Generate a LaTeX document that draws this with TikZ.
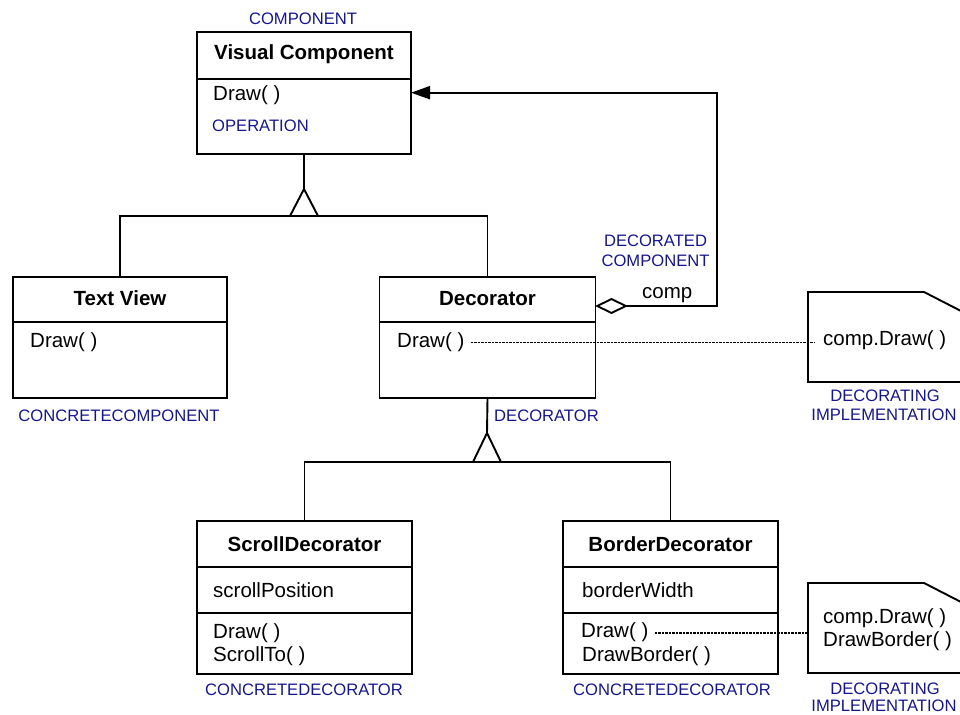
\documentclass[tikz,border=0pt]{standalone}
\usepackage{fontspec}
\setmainfont{Liberation Sans}
\usetikzlibrary{arrows.meta}
\definecolor{rolecol}{RGB}{22,22,140}
\begin{document}
\begin{tikzpicture}[x=1pt,y=-1pt,
  cls/.style={draw, line width=1.9pt, inner sep=0pt, outer sep=0pt},
  wire/.style={line width=1.9pt},
  txt/.style={inner sep=0pt, anchor=base west, font=\fontsize{20.5}{24}\selectfont},
  ttl/.style={inner sep=0pt, anchor=base, font=\fontsize{20.5}{24}\selectfont\bfseries},
  role/.style={inner sep=0pt, anchor=base, text=rolecol, font=\fontsize{16.6}{19.5}\selectfont},
  dotline/.style={line width=1.3pt, dash pattern=on 2.5pt off 1pt},
  holder/.style={inner sep=0pt, outer sep=0pt},
]
\useasboundingbox (0,0) rectangle (960,714);
\clip (0,0) rectangle (960,714);

% ---- Visual Component ----
\node[cls, minimum width=214pt, minimum height=122pt] (vc) at (304,93) {};
\draw[wire] (vc.west |- 0,79) -- (vc.east |- 0,79);
\node[ttl] (vcname) at (304,60) {Visual Component};
\node[txt] (vcdraw) at (213,100.7) {Draw( )};
\node[role, anchor=base west] (vcop) at (212,131.7) {OPERATION};
\node[role] (vcrole) at (303,24.3) {COMPONENT};

% ---- Text View ----
\node[cls, minimum width=214pt, minimum height=121pt] (tv) at (120,337.5) {};
\draw[wire] (tv.west |- 0,322) -- (tv.east |- 0,322);
\node[ttl] (tvname) at (120,305) {Text View};
\node[txt] (tvdraw) at (30,347.7) {Draw( )};
\node[role] (tvrole) at (119,421) {CONCRETECOMPONENT};

% ---- Decorator ----
\node[cls, minimum width=216pt, minimum height=121pt] (dec) at (487.5,337.5) {};
\draw[wire] (dec.west |- 0,322) -- (dec.east |- 0,322);
\node[ttl] (decname) at (487.5,305) {Decorator};
\node[txt] (decdraw) at (397,347.7) {Draw( )};
\node[role, anchor=base west] (decrole) at (494,421) {DECORATOR};

% ---- ScrollDecorator ----
\node[cls, minimum width=215pt, minimum height=153pt] (sd) at (304.5,597.5) {};
\draw[wire] (sd.west |- 0,567) -- (sd.east |- 0,567);
\draw[wire] (sd.west |- 0,613) -- (sd.east |- 0,613);
\node[ttl] (sdname) at (304.5,551) {ScrollDecorator};
\node[txt] (sdpos) at (213,597.3) {scrollPosition};
\node[txt] (sddraw) at (213,638.3) {Draw( )};
\node[txt] (sdscroll) at (213,661.7) {ScrollTo( )};
\node[role] (sdrole) at (304,695.7) {CONCRETEDECORATOR};

% ---- BorderDecorator ----
\node[cls, minimum width=215pt, minimum height=153pt] (bd) at (670.5,597.5) {};
\draw[wire] (bd.west |- 0,567) -- (bd.east |- 0,567);
\draw[wire] (bd.west |- 0,613) -- (bd.east |- 0,613);
\node[ttl] (bdname) at (670.5,551) {BorderDecorator};
\node[txt] (bdwidth) at (582,597.3) {borderWidth};
\node[txt] (bddraw) at (581,637.7) {Draw( )};
\node[txt] (bdborder) at (582,661.7) {DrawBorder( )};
\node[role] (bdrole) at (672,695.7) {CONCRETEDECORATOR};

% ---- implementation notes (folded corner runs past the right edge) ----
\node[holder, minimum width=192pt, minimum height=90pt] (n1) at (904,337) {};
\draw[wire] (n1.north west) -- (924,292) -- (1000,331) |- (n1.south west) -- cycle;
\node[txt] (n1code) at (823,345) {comp.Draw( )};
\node[role] (n1roleA) at (885,401.7) {DECORATING};
\node[role] (n1roleB) at (884,420) {IMPLEMENTATION};

\node[holder, minimum width=192pt, minimum height=90pt] (n2) at (904,628) {};
\draw[wire] (n2.north west) -- (924,583) -- (1000,622) |- (n2.south west) -- cycle;
\node[txt] (n2code) at (823,623.3) {comp.Draw( )};
\node[txt] (n2border) at (823,646) {DrawBorder( )};
\node[role] (n2roleA) at (885,694) {DECORATING};
\node[role] (n2roleB) at (884,711.8) {IMPLEMENTATION};

% ---- generalization: Text View, Decorator -> Visual Component ----
\coordinate (g1tip) at (304,189);
\coordinate (g1bar) at (304,216);
\draw[wire] (vc.south) -- (g1tip);
\draw[wire, line join=miter] ([xshift=-14pt]g1bar) -- (g1tip) -- ([xshift=14pt]g1bar) -- cycle;
\draw[wire] (tv.north) |- (g1bar) -| (dec.north);

% ---- generalization: ScrollDecorator, BorderDecorator -> Decorator ----
\coordinate (g2tip) at (487,433);
\coordinate (g2bar) at (487,462);
\draw[wire] (dec.south) -- (g2tip);
\draw[wire, line join=miter] ([xshift=-14pt]g2bar) -- (g2tip) -- ([xshift=14pt]g2bar) -- cycle;
\draw[wire] (sd.north) |- (g2bar) -| (bd.north);

% ---- aggregation: Decorator holds a component ----
\coordinate (agg) at (595,306);
\coordinate (aggturn) at (717,306);
\draw[wire, {Diamond[open, length=33pt, width=16pt, line width=1.9pt]}-{Triangle[length=19pt, width=13pt]}]
  (agg) -- (aggturn) |- (vc.east |- 0,92.7);
\node[txt] (comp) at (642,298.3) {comp};
\node[role] (decoratedA) at (655.5,246.7) {DECORATED};
\node[role] (decoratedB) at (655.5,266.7) {COMPONENT};

% ---- links from operations to their implementation notes ----
\draw[dotline] ([xshift=6pt]decdraw.east) -- ([xshift=6pt]decdraw.east -| n1.west);
\draw[dotline] ([xshift=6pt]bddraw.east |- 0,633) -- (n2.west |- 0,633);
\end{tikzpicture}
\end{document}
